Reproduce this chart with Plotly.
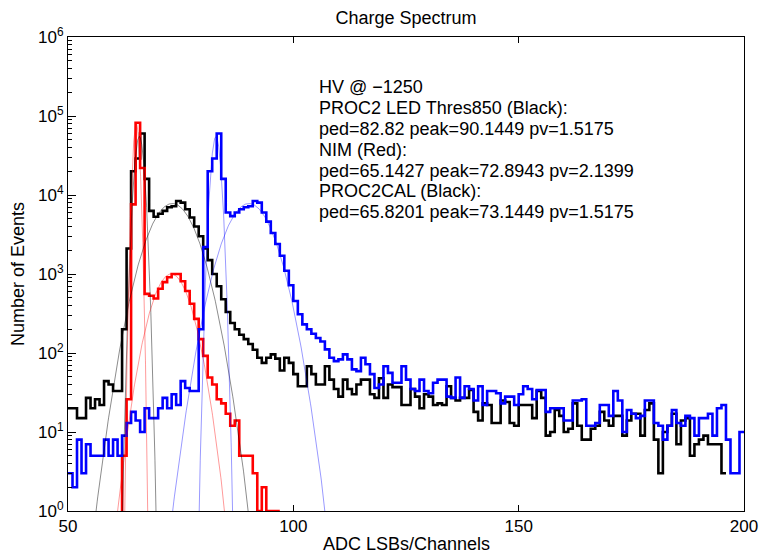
"""
Charge spectrum: three ADC histograms (log scale) with their Gaussian fits
"""
import numpy as np
import plotly.graph_objects as go

# first bin (ADC channel) of each histogram, bins are 1 channel wide
black_start = 50
red_start = 61
blue_start = 50

# PROC2CAL (black)
black_counts = [
    20, 20, 15, 15, 27, 20, 26, 22, 44, 40,                 # 50-59
    33, 33, 200, 2100, 20000, 29000, 60000, 16000, 6300, 5300,  # 60-69
    5800, 6300, 7000, 7200, 8400, 8000, 6600, 5200, 4000, 3000,  # 70-79
    2100, 1500, 1000, 700, 480, 330, 240, 200, 170, 150,    # 80-89
    130, 110, 87, 75, 87, 96, 85, 60, 87, 75,               # 90-99
    54, 38, 38, 68, 54, 40, 40, 68, 46, 35,                 # 100-109
    28, 46, 35, 30, 40, 46, 46, 30, 27, 48,                 # 110-119
    27, 40, 37, 37, 22, 22, 35, 28, 20, 30,                 # 120-129
    28, 22, 23, 22, 38, 27, 25, 27, 27, 34,                 # 130-139
    18, 14, 23, 22, 13, 13, 25, 24, 13, 12,                 # 140-149
    22, 22, 22, 15, 33, 27, 9, 10, 19, 16,                  # 150-159
    10, 11, 23, 12, 8, 8, 11, 12, 18, 14,                   # 160-169
    12, 16, 16, 9, 14, 17, 17, 9, 19, 23,                   # 170-179
    8, 3, 10, 12, 17, 7, 14, 15, 5, 7,                      # 180-189
    8, 9, 7, 7, 7, 3,                                       # 190-195
]

# NIM (red)
red_counts = [
    0, 5, 26, 7600, 82000, 22000, 560, 530, 490,            # 61-69
    650, 790, 910, 1000, 1000, 810, 610, 420, 270, 150,     # 70-79
    92, 49, 40, 26, 23, 17, 12, 14, 5, 5,                   # 80-89
    5, 3, 1, 2, 1, 1, 1,                                    # 90-96
]

# PROC2 LED Thres850 (blue)
blue_counts = [
    3, 2, 8, 3, 7, 5, 5, 5, 8, 5,                           # 50-59
    8, 5, 9, 13, 18, 14, 10, 20, 15, 15,                    # 60-69
    20, 27, 20, 30, 22, 44, 36, 33, 33, 200,                # 70-79
    2200, 20000, 29000, 60000, 16000, 6000, 5400, 6000, 6600, 7000,  # 80-89
    7200, 8400, 8000, 6000, 4600, 3300, 2400, 1700, 1100, 720,  # 90-99
    455, 310, 230, 200, 175, 155, 140, 111, 87, 79,         # 100-109
    83, 96, 83, 62, 59, 87, 72, 54, 36, 40,                 # 110-119
    68, 56, 42, 42, 68, 46, 35, 33, 46, 33,                 # 120-129
    31, 42, 46, 46, 28, 27, 49, 27, 38, 35,                 # 130-139
    25, 38, 22, 33, 33, 31, 23, 28, 28, 22,                 # 140-149
    30, 38, 35, 26, 34, 34, 18, 20, 20, 20,                 # 150-159
    14, 14, 25, 25, 26, 12, 12, 13, 22, 22,                 # 160-169
    16, 33, 25, 10, 19, 17, 15, 16, 25, 25,                 # 170-179
    13, 12, 8, 12, 19, 13, 12, 16, 15, 9,                   # 180-189
    15, 15, 17, 9, 20, 22, 8, 3, 3, 10,                     # 190-199
]

# Gaussian fits: pedestal and single-photoelectron peak for each histogram
black_fit_centre = [65.8201, 73.1449]
black_fit_height = [55000, 7800]
black_fit_sigma = [0.80, 4.0]

red_fit_centre = [65.1427, 72.8943]
red_fit_height = [80000, 1000]
red_fit_sigma = [0.55, 3.2]

blue_fit_centre = [82.82, 90.1449]
blue_fit_height = [55000, 7800]
blue_fit_sigma = [0.80, 4.0]

info_lines = [
    "HV @ \u22121250",
    "PROC2 LED Thres850 (Black):",
    "ped=82.82 peak=90.1449 pv=1.5175",
    "NIM (Red):",
    "ped=65.1427 peak=72.8943 pv=2.1399",
    "PROC2CAL (Black):",
    "ped=65.8201 peak=73.1449 pv=1.5175",
]


def stairs(start, counts):
    counts = np.asarray(counts, dtype=float)
    edges = np.arange(start, start + len(counts) + 1)
    y = np.append(counts, counts[-1])
    # empty bins go below the log axis so the step drops to the frame
    y = np.where(y > 0, y, 1e-3)
    return edges, y


def gauss(height, centre, sigma):
    xs = np.linspace(centre - 6 * sigma, centre + 6 * sigma, 400)
    return xs, height * np.exp(-0.5 * ((xs - centre) / sigma) ** 2)


FONT = "Liberation Sans, Arial, Helvetica, sans-serif"
W, H = 759, 553
# plot frame in screen pixels: x 68..744, y 37..511
L, R, T, B = 68, 759 - 744, 37, 553 - 511

fig = go.Figure()

for start, counts, colour in [
    (black_start, black_counts, "black"),
    (red_start, red_counts, "#ff0000"),
    (blue_start, blue_counts, "#0000ff"),
]:
    x, y = stairs(start, counts)
    fig.add_trace(go.Scatter(x=x, y=y, mode="lines", line_shape="hv",
                             line=dict(color=colour, width=2.6)))

for centres, heights, sigmas, colour in [
    (black_fit_centre, black_fit_height, black_fit_sigma, "rgba(0,0,0,0.45)"),
    (red_fit_centre, red_fit_height, red_fit_sigma, "rgba(255,0,0,0.4)"),
    (blue_fit_centre, blue_fit_height, blue_fit_sigma, "rgba(0,0,255,0.4)"),
]:
    for c, h, s in zip(centres, heights, sigmas):
        x, y = gauss(h, c, s)
        fig.add_trace(go.Scatter(x=x, y=y, mode="lines",
                                 line=dict(color=colour, width=1)))

decades = [10 ** k for k in range(7)]
minor_vals = [m * 10 ** k for k in range(6) for m in range(2, 10)]

log_ticks = dict(type="log", range=[0, 6], tickvals=decades,
                 ticks="inside", ticklen=8, tickcolor="black",
                 minor=dict(tickvals=minor_vals, ticks="inside", ticklen=4,
                            tickcolor="black", showgrid=False),
                 showgrid=False, zeroline=False, automargin=False)

fig.update_layout(
    width=W, height=H,
    margin=dict(l=L, r=R, t=T, b=B),
    paper_bgcolor="white", plot_bgcolor="white",
    showlegend=False,
    font=dict(family=FONT, size=17, color="black"),
    title=dict(text="Charge Spectrum", x=0.5, xref="paper", xanchor="center",
               y=1 - 18 / H, yanchor="middle", font=dict(size=18)),
    xaxis=dict(range=[50, 200], tickvals=[50, 100, 150, 200],
               ticks="inside", ticklen=6, tickcolor="black",
               showline=True, linecolor="black", linewidth=1, mirror="allticks",
               showgrid=False, zeroline=False, automargin=False),
    yaxis=dict(**log_ticks,
               ticktext=[f"10<sup>{k}</sup>" for k in range(7)],
               showline=True, linecolor="black", linewidth=1, mirror=True),
    # right-hand copy of the log axis, for the mirrored major/minor ticks
    yaxis2=dict(**log_ticks, overlaying="y", side="right", matches="y",
                showticklabels=False, showline=False),
)

plot_w = W - L - R
plot_h = H - T - B
bottom = H - B

# axis labels
fig.add_annotation(text="ADC LSBs/Channels", xref="paper", yref="paper",
                   x=0.5, y=-(544 - bottom) / plot_h, xanchor="center",
                   yanchor="middle", showarrow=False, font=dict(size=18))
fig.add_annotation(text="Number of Events", xref="paper", yref="paper",
                   x=(18 - L) / plot_w, y=0.5, textangle=-90,
                   xanchor="center", yanchor="middle", showarrow=False,
                   font=dict(size=18))

# fit summary text block
for i, line in enumerate(info_lines):
    ypix = 87.5 + i * 20.8
    fig.add_annotation(text=line, xref="paper", yref="paper",
                       x=(317 - L) / plot_w, y=(bottom - ypix) / plot_h,
                       xanchor="left", yanchor="middle", showarrow=False,
                       font=dict(size=18))

# drop the page's default body margin so the figure sits at the window corner
fig.write_html("out.html", config={"displayModeBar": False},
               post_script="document.body.style.margin='0';"
                           "document.body.style.overflow='hidden';")
